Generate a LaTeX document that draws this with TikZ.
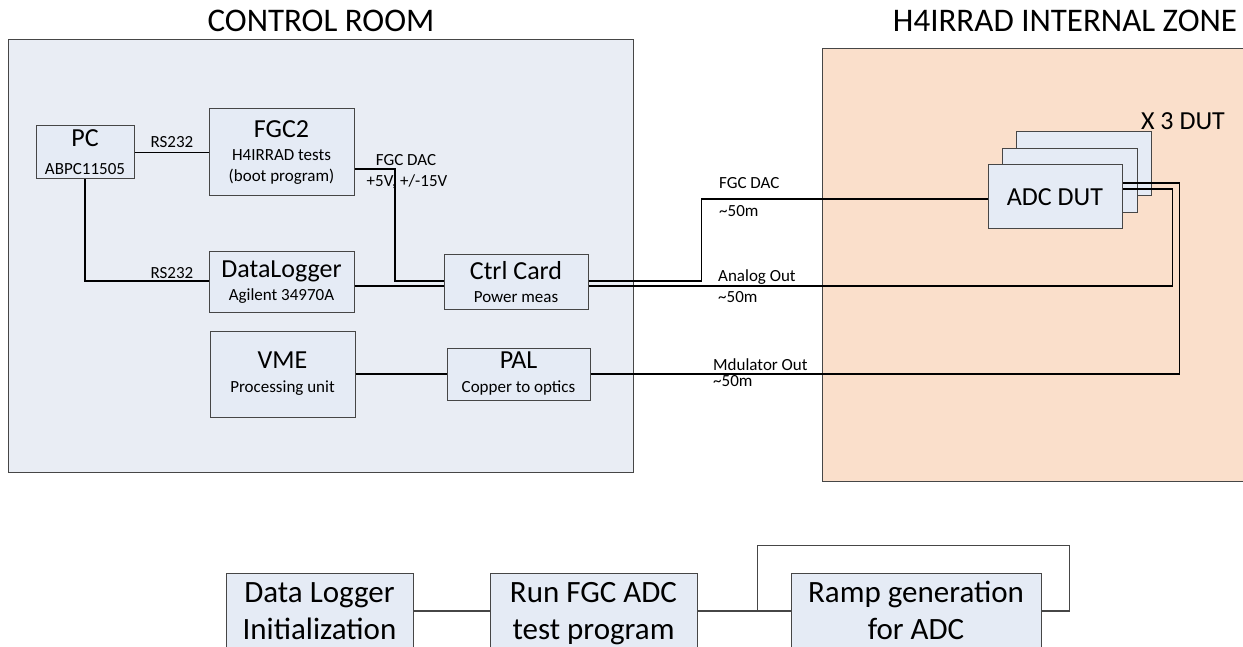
\documentclass[tikz,border=0pt]{standalone}
\usepackage{fontspec}
\setmainfont{Carlito}
\usetikzlibrary{positioning}
\definecolor{roomblue}{RGB}{233,237,244}
\definecolor{unitblue}{RGB}{229,235,245}
\definecolor{zonepeach}{RGB}{250,223,203}
\definecolor{edgegray}{RGB}{70,70,70}
\newcommand{\bigtxt}{\fontsize{26}{26}\selectfont}
\newcommand{\smalltxt}{\fontsize{17}{21}\selectfont}

\begin{document}
\begin{tikzpicture}[x=1pt, y=-1pt,
		unit/.style={draw=edgegray, fill=unitblue, line width=1pt, inner sep=0pt, align=center, font=\smalltxt},
		step box/.style={unit, font=\fontsize{31}{37}\selectfont, minimum height=76, text height=57pt, text depth=0pt},
		wire/.style={line width=1.3pt, black},
		flow/.style={line width=1.1pt, edgegray},
		lbl/.style={font=\smalltxt, inner sep=0pt},
		title/.style={font=\fontsize{33}{33}\selectfont, inner sep=0pt, anchor=base}]
		\useasboundingbox (0,0) rectangle (1243,647);
		% rooms:
		\draw[edgegray, line width=1pt, fill=roomblue] (8,40) rectangle (633,472);
		\draw[edgegray, line width=1pt, fill=zonepeach] (822,49) rectangle (1262,481);
		\node[title] (roomtitle) at (321,32) {CONTROL ROOM};
		\node[title] (zonetitle) at (1065,32) {H4IRRAD INTERNAL ZONE};
		% control room units
		\node[unit, minimum width=98, minimum height=53] (pc) at (85,152.5) {{\bigtxt PC}\\[7pt]ABPC11505};
		\node[unit, minimum width=145, minimum height=87] (fgc) at (281.5,152.5) {{\bigtxt FGC2}\\[2pt]H4IRRAD tests\\(boot program)};
		\node[unit, minimum width=145, minimum height=60] (logger) at (281.5,282) {{\bigtxt DataLogger}\\[2.5pt]Agilent 34970A};
		\node[unit, minimum width=144, minimum height=54] (ctrl) at (516,282) {{\bigtxt Ctrl Card}\\[2.5pt]Power meas};
		\node[unit, minimum width=145, minimum height=86] (vme) at (282.5,374) {{\bigtxt VME}\\[3pt]Processing unit};
		\node[unit, minimum width=143, minimum height=52] (pal) at (518.5,374) {{\bigtxt PAL}\\[3pt]Copper to optics};
		% DUT stack
		\foreach \k in {2,1}{
			\node[unit, minimum width=135, minimum height=64] (dut\k) at (1055+14.5*\k,197-16.5*\k) {};
		}
		\node[unit, font=\bigtxt, minimum width=134, minimum height=64] (dut) at (1055,197) {ADC DUT};
		\node[lbl, font=\bigtxt] (dutcount) at (1183,121) {X 3 DUT};
		% test sequence
		\node[step box, minimum width=187] (init) at (319.5,611) {Data Logger\\Initialization};
		\node[step box, minimum width=207] (run) at (593.5,611) {Run FGC ADC\\test program};
		\node[step box, minimum width=250] (ramp) at (916,611) {Ramp generation\\for ADC};
		%
		\coordinate (dacbend) at (395,281);
		% links in control room
		\draw[wire] (pc) -- (fgc);
		\draw[wire] (pc.south) |- ([yshift=1]logger.west);
		\draw[wire] ([yshift=-16.5]fgc.east) -| (dacbend) -- (dacbend -| ctrl.west);
		\draw[wire] ([yshift=-4]logger.east) -- ([yshift=-4]ctrl.west);
		\draw[wire] (vme) -- (pal);
		% cables to the DUT
		\draw[wire] ([yshift=1]ctrl.east) -| ([xshift=-286, yshift=-2]dut.west) -- ([yshift=-2]dut.west);
		\draw[wire] ([yshift=-4]ctrl.east) -| ([xshift=50, yshift=8]dut.east) -- ([yshift=8]dut.east);
		\draw[wire] (pal.east) -| ([xshift=57, yshift=14]dut.east) -- ([yshift=14]dut.east);
		% sequence links
		\draw[flow] (init) -- (run);
		\draw[flow] (run) -- (ramp);
		\draw[flow] ([xshift=60]run.east) |- ([xshift=28, yshift=27]ramp.north east) -- ([xshift=28]ramp.east) -- (ramp.east);
		% labels:
		\node[lbl] (rsup) at (172,142) {RS232};
		\node[lbl] (rsdown) at (172,273) {RS232};
		\node[lbl, anchor=base] (dacname) at (406,165.5) {FGC DAC};
		\node[lbl, anchor=base] (dacvolt) at (407,186.5) {+5V, +/-15V};
		\foreach \x/\y/\d/\txt in {719/188.5/28/FGC DAC, 718/281.5/21/Analog Out, 713/370.5/16/Mdulator Out}{
			\node[lbl, anchor=base west] (cable\y) at (\x,\y) {\txt};
			\node[lbl, anchor=base west] (length\y) at (\x,\y+\d) {\textasciitilde50m};
		}
	\end{tikzpicture}
\end{document}
